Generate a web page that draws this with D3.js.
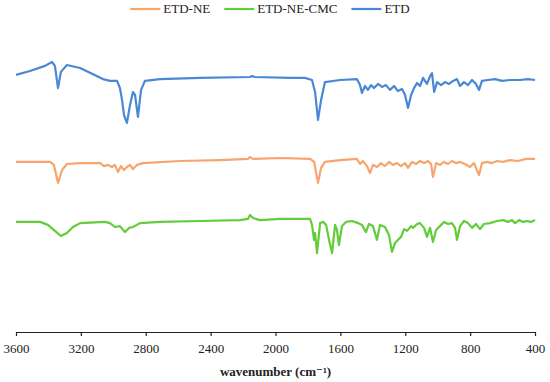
<!DOCTYPE html>
<html>
<head>
<meta charset="utf-8">
<script src="https://cdn.jsdelivr.net/npm/d3@7"></script>
<style>
  body { margin: 0; background: #fff; }
  svg text { font-family: "Liberation Serif", "DejaVu Serif", serif; fill: #222; }
</style>
</head>
<body>
<div id="chart"></div>
<script>
// series names and colours
let seriesNames = ["ETD-NE", "ETD-NE-CMC", "ETD"];
let seriesColors = ["#F7A56E", "#62CC3A", "#4A87D5"];

// x axis ticks (wavenumber, cm-1)
let xTicks = [3600, 3200, 2800, 2400, 2000, 1600, 1200, 800, 400];

// ETD spectrum [wavenumber, offset transmittance]
let etd = [
  [3600, 85.7], [3514, 87.0], [3421, 88.7], [3378, 90.0], [3360, 88.7], [3341, 81.3], [3323, 86.7],
  [3286, 89.0], [3205, 88.0], [3064, 84.3], [3020, 83.7], [2977, 83.7], [2959, 81.3], [2946, 77.3],
  [2934, 72.3], [2916, 69.7], [2897, 75.7], [2879, 80.0], [2866, 79.0], [2848, 71.7], [2829, 80.7],
  [2805, 83.7], [2712, 84.3], [2465, 84.7], [2157, 85.0], [2145, 85.3], [2126, 85.0], [1910, 84.7],
  [1818, 84.7], [1775, 84.0], [1756, 80.0], [1738, 70.7], [1719, 77.3], [1695, 83.3], [1602, 84.0],
  [1498, 84.3], [1479, 82.3], [1467, 79.7], [1448, 82.0], [1430, 80.7], [1411, 82.3], [1393, 81.3],
  [1368, 82.7], [1343, 81.7], [1319, 82.3], [1294, 80.7], [1269, 82.0], [1245, 80.3], [1220, 81.0],
  [1201, 79.0], [1183, 74.7], [1164, 79.0], [1146, 81.3], [1127, 83.0], [1109, 82.0], [1090, 84.7],
  [1066, 82.7], [1047, 85.3], [1035, 86.3], [1022, 80.0], [1004, 83.3], [979, 82.3], [955, 83.3],
  [930, 82.7], [905, 83.7], [881, 84.3], [862, 82.0], [838, 83.3], [813, 82.3], [788, 84.0],
  [764, 82.7], [745, 80.7], [727, 83.7], [690, 84.0], [647, 84.3], [603, 83.7], [554, 84.0],
  [492, 84.0], [443, 84.3], [400, 84.0]
];

// ETD-NE spectrum
let etdNe = [
  [3600, 56.7], [3452, 56.7], [3390, 56.7], [3366, 55.7], [3341, 49.7], [3316, 54.0], [3286, 56.0],
  [3205, 56.3], [3082, 56.3], [3057, 55.3], [3033, 55.7], [3008, 55.0], [2990, 55.7], [2971, 53.3],
  [2953, 55.3], [2934, 54.0], [2916, 55.0], [2897, 55.7], [2879, 54.3], [2854, 55.7], [2817, 56.3],
  [2589, 57.0], [2342, 57.3], [2170, 57.7], [2157, 58.3], [2139, 57.7], [1972, 58.0], [1787, 57.7],
  [1762, 56.7], [1738, 49.7], [1719, 54.7], [1695, 56.7], [1602, 57.3], [1498, 57.7], [1479, 56.0],
  [1461, 57.0], [1436, 55.3], [1417, 53.0], [1399, 55.7], [1374, 55.0], [1350, 56.3], [1325, 55.3],
  [1300, 56.7], [1276, 55.7], [1251, 56.3], [1226, 55.3], [1201, 56.3], [1183, 54.7], [1158, 56.7],
  [1134, 56.0], [1109, 57.0], [1084, 56.3], [1060, 57.0], [1041, 56.0], [1029, 51.7], [1010, 56.3],
  [986, 55.7], [961, 56.7], [936, 56.0], [912, 57.0], [887, 56.3], [862, 56.7], [832, 56.0],
  [801, 55.0], [776, 56.3], [745, 52.3], [727, 56.3], [696, 56.7], [665, 56.3], [634, 57.0],
  [597, 56.7], [554, 57.3], [505, 57.0], [455, 57.7], [400, 57.7]
];

// ETD-NE-CMC spectrum
let etdNeCmc = [
  [3600, 36.7], [3452, 36.7], [3403, 35.7], [3360, 33.7], [3323, 32.0], [3286, 33.0], [3249, 35.0],
  [3205, 36.3], [3051, 36.7], [3020, 36.3], [2990, 35.0], [2959, 35.3], [2928, 33.3], [2903, 34.7],
  [2879, 35.0], [2835, 36.3], [2712, 36.7], [2465, 37.0], [2219, 37.3], [2170, 37.7], [2157, 39.0],
  [2139, 38.0], [2096, 37.3], [1972, 37.7], [1849, 37.7], [1787, 37.7], [1775, 35.7], [1762, 30.7],
  [1756, 33.0], [1744, 26.3], [1725, 36.3], [1707, 36.7], [1688, 35.7], [1670, 30.7], [1651, 26.3],
  [1633, 35.7], [1621, 34.0], [1609, 29.0], [1590, 35.3], [1565, 36.7], [1528, 37.0], [1491, 36.3],
  [1467, 35.7], [1442, 33.3], [1424, 36.0], [1399, 35.3], [1374, 30.7], [1356, 35.7], [1325, 35.0],
  [1300, 32.3], [1282, 26.7], [1263, 29.7], [1245, 30.7], [1226, 31.7], [1207, 34.3], [1189, 33.7],
  [1164, 35.3], [1152, 34.7], [1127, 36.0], [1109, 36.3], [1084, 34.7], [1066, 31.7], [1047, 34.7],
  [1029, 30.0], [1010, 34.0], [986, 35.3], [961, 36.7], [936, 36.0], [912, 36.3], [893, 34.7],
  [881, 30.7], [862, 35.3], [838, 37.0], [813, 36.3], [788, 34.7], [764, 36.0], [739, 34.3],
  [715, 36.0], [678, 36.3], [634, 37.0], [597, 37.3], [566, 36.7], [542, 37.3], [523, 36.3],
  [498, 37.3], [474, 36.7], [449, 37.0], [424, 36.7], [400, 37.3]
];

let seriesData = [etdNe, etdNeCmc, etd];

document.addEventListener('DOMContentLoaded', function() {
    let width = 550;
    let height = 382;
    let left = 16, right = 535, top = 32, bottom = 332;

    let svg = d3.select("#chart")
                .append("svg")
                .attr("width", width)
                .attr("height", height);

    // reversed wavenumber scale
    let xScale = d3.scaleLinear().domain([3600, 400]).range([left, right]);
    let yScale = d3.scaleLinear().domain([0, 100]).range([bottom, top]);

    let line = d3.line()
                 .x(d => xScale(d[0]))
                 .y(d => yScale(d[1]));

    // draw spectra
    seriesData.forEach((data, i) => {
        svg.append("path")
           .datum(data)
           .attr("fill", "none")
           .attr("stroke", seriesColors[i])
           .attr("stroke-width", 2.2)
           .attr("stroke-linejoin", "round")
           .attr("d", line);
    });

    // x axis
    let xAxis = d3.axisBottom(xScale)
                  .tickValues(xTicks)
                  .tickSizeInner(4)
                  .tickSizeOuter(0)
                  .tickFormat(d3.format("d"));
    let gx = svg.append("g")
                .attr("transform", `translate(0, ${bottom})`)
                .call(xAxis);
    gx.select(".domain").attr("stroke", "#222").attr("stroke-width", 1.2);
    gx.selectAll(".tick line").attr("stroke", "#222").attr("stroke-width", 1.2);
    gx.selectAll(".tick text")
      .attr("font-family", null)
      .attr("font-size", 13)
      .attr("dy", "1.05em")
      .attr("fill", "#222");

    // axis title
    svg.append("text")
       .attr("x", (left + right) / 2)
       .attr("y", 376)
       .attr("text-anchor", "middle")
       .attr("font-size", 13)
       .attr("font-weight", "bold")
       .text("wavenumber (cm\u207B\u00B9)");

    // legend, centred above the plot
    let legend = svg.append("g");
    let xPos = 0;
    let gap = 14;
    seriesNames.forEach((name, i) => {
        let item = legend.append("g").attr("transform", `translate(${xPos}, 0)`);
        item.append("line")
            .attr("x1", 0).attr("x2", 30)
            .attr("y1", 9).attr("y2", 9)
            .attr("stroke", seriesColors[i])
            .attr("stroke-width", 2.2);
        let t = item.append("text")
            .attr("x", 33)
            .attr("y", 13)
            .attr("font-size", 13)
            .text(name);
        xPos += 33 + t.node().getComputedTextLength() + gap;
    });
    let legendWidth = xPos - gap;
    legend.attr("transform", `translate(${270 - legendWidth / 2}, 0)`);
});
</script>
</body>
</html>
